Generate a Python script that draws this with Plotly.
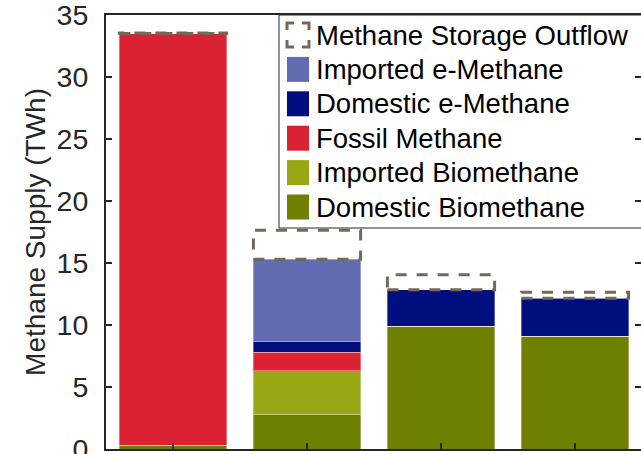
import plotly.graph_objects as go

# Scenario positions along the x axis
scenarios = [1, 2, 3, 4]

# Methane supply by source (TWh), stacked bottom to top
domestic_biomethane = [0.3, 2.8, 9.9, 9.1]
imported_biomethane = [0.0, 3.5, 0.0, 0.0]
fossil_methane = [33.2, 1.5, 0.0, 0.0]
domestic_emethane = [0.0, 0.85, 2.95, 3.05]
imported_emethane = [0.0, 6.65, 0.0, 0.0]
storage_outflow = [0.05, 2.35, 1.2, 0.5]

stack_names = ["Domestic Biomethane", "Imported Biomethane", "Fossil Methane",
               "Domestic e-Methane", "Imported e-Methane"]
stack_values = [domestic_biomethane, imported_biomethane, fossil_methane,
                domestic_emethane, imported_emethane]
stack_colors = ["#6f7f00", "#98a815", "#da2232", "#000f7e", "#636cb0"]
storage_name = "Methane Storage Outflow"
storage_color = "#76675a"

y_ticks = [0, 5, 10, 15, 20, 25, 30, 35]

W, H = 641, 454
L, R, T, B = 106, 0, 15, 5
plot_w = W - L - R
plot_h = H - T - B
BAR_W = 0.8
AXIS = "#262626"
FONT = "Liberation Sans, Arial, sans-serif"

fig = go.Figure()
for name, vals, col in zip(stack_names, stack_values, stack_colors):
    fig.add_trace(go.Bar(
        x=scenarios, y=vals, name=name, width=BAR_W,
        marker=dict(color=col, line=dict(color="rgba(255,255,255,0.35)", width=1)),
        showlegend=False,
    ))

# Storage outflow drawn as dashed outlines on top of each stack
totals = [sum(v[i] for v in stack_values) for i in range(len(scenarios))]
for xi, tot, st in zip(scenarios, totals, storage_outflow):
    fig.add_shape(type="rect", xref="x", yref="y",
                  x0=xi - BAR_W / 2, x1=xi + BAR_W / 2, y0=tot, y1=tot + st,
                  line=dict(color=storage_color, width=3, dash="11px,10px"),
                  fillcolor="rgba(0,0,0,0)", layer="above")


def px_x(p):
    return (p - L) / plot_w


def px_y(p):
    return (H - B - p) / plot_h


# Legend box
fig.add_shape(type="rect", xref="paper", yref="paper",
              x0=px_x(279), x1=px_x(660), y0=px_y(228), y1=px_y(15),
              line=dict(color=AXIS, width=1), fillcolor="white", layer="below")

# Dash pattern that leaves a bracket at each corner of the 22x24 key box
corner_dash = "7px,8px,14px,10px,14px,8px,14px,10px,7px"

legend_entries = [(storage_name, None)] + list(zip(stack_names, stack_colors))[::-1]
row0, row_step = 35, 34.4
for k, (name, col) in enumerate(legend_entries):
    cy = row0 + k * row_step
    if col is None:
        fig.add_shape(type="rect", xref="paper", yref="paper",
                      x0=px_x(287), x1=px_x(309), y0=px_y(cy + 12), y1=px_y(cy - 12),
                      line=dict(color=storage_color, width=3, dash=corner_dash),
                      fillcolor="rgba(0,0,0,0)", layer="below")
    else:
        fig.add_shape(type="rect", xref="paper", yref="paper",
                      x0=px_x(287), x1=px_x(309), y0=px_y(cy + 12.5), y1=px_y(cy - 12.5),
                      line=dict(width=0), fillcolor=col, layer="below")
    fig.add_annotation(text=name, xref="paper", yref="paper",
                       x=px_x(314), y=px_y(cy), xanchor="left", yanchor="middle",
                       showarrow=False, font=dict(family=FONT, size=27.5, color="#000000"))

fig.update_layout(
    width=W, height=H,
    margin=dict(l=L, r=R, t=T, b=B, autoexpand=False),
    paper_bgcolor="white", plot_bgcolor="white",
    barmode="stack", bargap=0.2,
    font=dict(family=FONT, size=28, color=AXIS),
    showlegend=False,
)
fig.update_xaxes(
    range=[0.5, 0.5 + plot_w / 134.0], tickvals=scenarios, showticklabels=False,
    showline=True, linecolor=AXIS, linewidth=2, mirror=True, automargin=False,
    ticks="inside", ticklen=6, tickwidth=2, tickcolor=AXIS, showgrid=False, zeroline=False,
)
fig.update_yaxes(
    range=[0, 35], tickvals=y_ticks, automargin=False,
    showline=True, linecolor=AXIS, linewidth=2, mirror="ticks",
    ticks="inside", ticklen=6, tickwidth=2, tickcolor=AXIS, showgrid=False, zeroline=False,
    tickfont=dict(family=FONT, size=28.5, color=AXIS), ticklabelstandoff=10,
    ticklabeloverflow="allow",
    title=dict(text="Methane Supply (TWh)", font=dict(family=FONT, size=28, color=AXIS), standoff=3),
)

fig.write_html("out.html")
